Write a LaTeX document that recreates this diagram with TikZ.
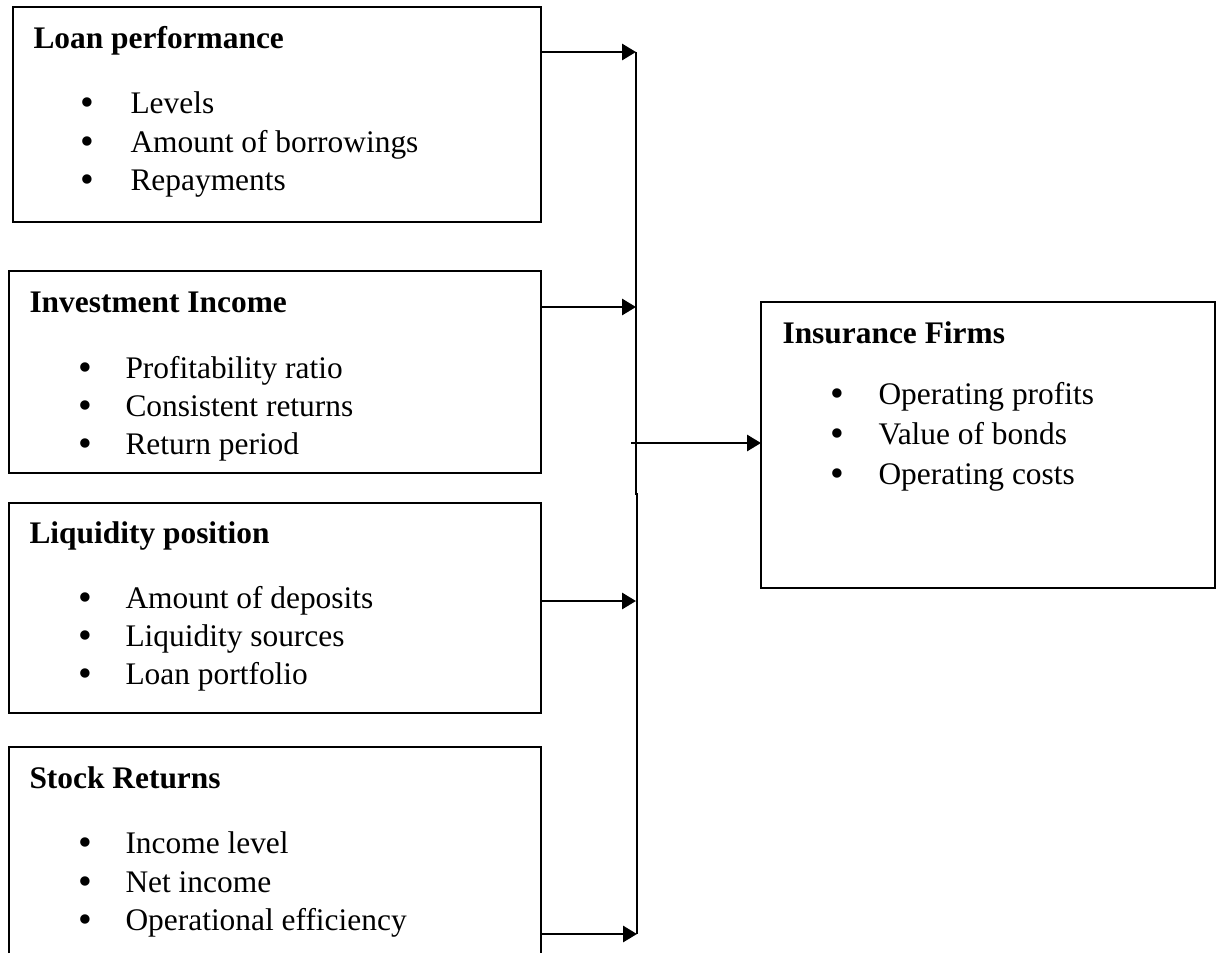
\documentclass[tikz,border=0pt]{standalone}
\usepackage{fontspec}
\setmainfont{Liberation Serif}
\usetikzlibrary{arrows.meta}
\def\px{0.382pt}
\begin{document}
\begin{tikzpicture}[x=0.382pt,y=-0.382pt,
  boxnode/.style={draw,line width=0.75pt,anchor=north west,inner sep=0pt,outer sep=0pt},
  ttl/.style={anchor=base west,inner sep=0pt,font=\fontsize{12}{14}\selectfont\bfseries},
  itm/.style={anchor=base west,inner sep=0pt,font=\fontsize{12}{14}\selectfont},
  bul/.style={anchor=base,inner sep=0pt,yshift=-2*\px,font=\fontsize{15}{17}\selectfont},
  arr/.style={line width=1pt,-{Triangle[length=5.3pt,width=6.1pt]}},
  busline/.style={line width=0.75pt}]
\useasboundingbox (0,0) rectangle (1221,953);
% boxes
\node[boxnode,minimum width=528*\px,minimum height=215*\px] (b1) at (13,7) {};
\node[boxnode,minimum width=532*\px,minimum height=202*\px] (b2) at (9,271) {};
\node[boxnode,minimum width=532*\px,minimum height=210*\px] (b3) at (9,503) {};
\node[boxnode,draw=none,minimum width=532*\px,minimum height=206*\px] (b4) at (9,747) {};
\draw[line width=0.75pt] (b4.south west) -- (b4.north west) -- (b4.north east) -- (b4.south east);
\node[boxnode,minimum width=454*\px,minimum height=286*\px] (b5) at (761,302) {};
% box 1
\node[ttl] (t1) at (33,48) {Loan performance};
\node[bul] (d11) at (87,113) {\textbullet};
\node[bul] (d12) at (87,152) {\textbullet};
\node[bul] (d13) at (87,190) {\textbullet};
\node[itm] (i11) at (130,113) {Levels};
\node[itm] (i12) at (130,152) {Amount of borrowings};
\node[itm] (i13) at (130,190) {Repayments};
% box 2
\node[ttl] (t2) at (29,312) {Investment Income};
\node[bul] (d21) at (85,378) {\textbullet};
\node[bul] (d22) at (85,416) {\textbullet};
\node[bul] (d23) at (85,454) {\textbullet};
\node[itm] (i21) at (125,378) {Profitability ratio};
\node[itm] (i22) at (125,416) {Consistent returns};
\node[itm] (i23) at (125,454) {Return period};
% box 3
\node[ttl] (t3) at (29,543) {Liquidity position};
\node[bul] (d31) at (85,608) {\textbullet};
\node[bul] (d32) at (85,646) {\textbullet};
\node[bul] (d33) at (85,684) {\textbullet};
\node[itm] (i31) at (125,608) {Amount of deposits};
\node[itm] (i32) at (125,646) {Liquidity sources};
\node[itm] (i33) at (125,684) {Loan portfolio};
% box 4
\node[ttl] (t4) at (29,788) {Stock Returns};
\node[bul] (d41) at (85,853) {\textbullet};
\node[bul] (d42) at (85,892) {\textbullet};
\node[bul] (d43) at (85,930) {\textbullet};
\node[itm] (i41) at (125,853) {Income level};
\node[itm] (i42) at (125,892) {Net income};
\node[itm] (i43) at (125,930) {Operational efficiency};
% box 5
\node[ttl] (t5) at (782,343) {Insurance Firms};
\node[bul] (d51) at (837,404) {\textbullet};
\node[bul] (d52) at (837,444) {\textbullet};
\node[bul] (d53) at (837,484) {\textbullet};
\node[itm] (i51) at (878,404) {Operating profits};
\node[itm] (i52) at (878,444) {Value of bonds};
\node[itm] (i53) at (878,484) {Operating costs};
% bus
\coordinate (p1) at (636,52);
\coordinate (p2) at (636,307);
\coordinate (p3) at (636,601);
\coordinate (p4) at (637,934);
\coordinate (j1) at (636,494);
\coordinate (j2) at (637,494);
\coordinate (o1) at (631,443);
\draw[busline] (p1) -- (j1) -- (j2) -- (p4);
% arrows
\draw[arr] (b1.east |- p1) -- (p1);
\draw[arr] (b2.east |- p2) -- (p2);
\draw[arr] (b3.east |- p3) -- (p3);
\draw[arr] (b4.east |- p4) -- (p4);
\draw[arr] (o1) -- (b5.west |- o1);
\end{tikzpicture}
\end{document}
